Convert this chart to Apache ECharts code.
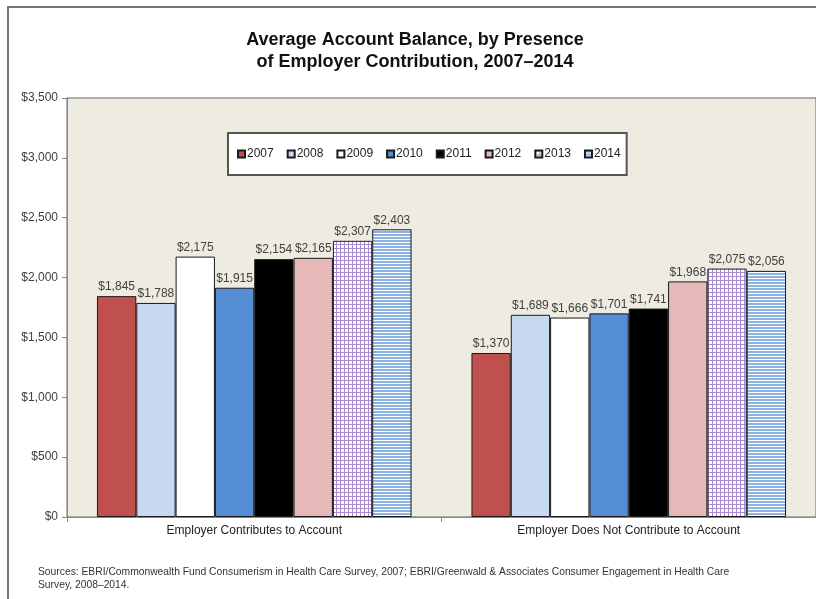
<!DOCTYPE html>
<html><head><meta charset="utf-8">
<script src="https://cdn.jsdelivr.net/npm/echarts@6/dist/echarts.min.js"></script>
<style>html,body{margin:0;padding:0;background:#fff}#c{width:816px;height:599px}</style>
</head><body><div id="c"></div>
<script>
var categories = ['Employer Contributes to Account', 'Employer Does Not Contribute to Account'];
var years = ['2007','2008','2009','2010','2011','2012','2013','2014'];
var v2007 = [1845, 1370];
var v2008 = [1788, 1689];
var v2009 = [2175, 1666];
var v2010 = [1915, 1701];
var v2011 = [2154, 1741];
var v2012 = [2165, 1968];
var v2013 = [2307, 2075];
var v2014 = [2403, 2056];
var values = [v2007, v2008, v2009, v2010, v2011, v2012, v2013, v2014];

function checkPattern(){
  var c = document.createElement('canvas'); c.width = 4; c.height = 4;
  var g = c.getContext('2d');
  g.fillStyle = '#ffffff'; g.fillRect(0,0,4,4);
  g.fillStyle = '#A88BD2'; g.fillRect(0,0,4,1); g.fillRect(0,0,1,4);
  return c;
}
function stripePattern(){
  var c = document.createElement('canvas'); c.width = 4; c.height = 3;
  var g = c.getContext('2d');
  g.fillStyle = '#ffffff'; g.fillRect(0,0,4,3);
  g.fillStyle = '#8DB3E2'; g.fillRect(0,0,4,2);
  return c;
}
var colors = ['#C0504D', '#C6D9F1', '#FFFFFF', '#558ED5', '#000000', '#E6B9B8',
  {image: checkPattern(), repeat: 'repeat'}, {image: stripePattern(), repeat: 'repeat'}];

var FONT = 'Liberation Sans, Arial, sans-serif';
var chart = echarts.init(document.getElementById('c'), null, {renderer: 'canvas'});
var series = years.map(function(y, i){
  return {
    name: y, type: 'bar', data: values[i],
    barGap: '0%', barCategoryGap: '16%',
    itemStyle: {color: colors[i], borderColor: '#1a1a1a', borderWidth: 1},
    label: {show: true, position: 'top', distance: 3, color: '#404040', fontSize: 12,
      fontFamily: FONT,
      formatter: function(p){ return '$' + p.value.toLocaleString('en-US'); }}
  };
});
chart.setOption({
  animation: false,
  backgroundColor: '#ffffff',
  textStyle: {fontFamily: FONT},
  title: {
    text: 'Average Account Balance, by Presence\nof Employer Contribution, 2007\u20132014',
    left: 410, top: 24, textAlign: 'center',
    textStyle: {fontSize: 18, fontWeight: 'bold', color: '#111', lineHeight: 22, fontFamily: FONT}
  },
  legend: {
    data: years, left: 228, top: 133, width: 420,
    backgroundColor: '#ffffff', borderColor: '#555', borderWidth: 2,
    padding: [15, 6, 15, 9],
    itemWidth: 7, itemHeight: 7, itemGap: 13,
    icon: 'rect',
    textStyle: {fontSize: 12, color: '#222', padding: [0,0,0,-3]}
  },
  grid: {left: 67, top: 98, width: 750, height: 419, show: true,
    backgroundColor: '#EEEBE0', borderColor: '#666', borderWidth: 1},
  xAxis: {
    type: 'category', data: categories,
    axisLine: {lineStyle: {color: '#888'}},
    axisTick: {show: true, alignWithLabel: false, length: 5, lineStyle: {color: '#888'}},
    axisLabel: {fontSize: 12, color: '#222', margin: 8}
  },
  yAxis: {
    type: 'value', min: 0, max: 3500, interval: 500,
    axisLine: {show: true, lineStyle: {color: '#888'}},
    axisTick: {show: true, length: 5, lineStyle: {color: '#888'}},
    splitLine: {show: false},
    axisLabel: {fontSize: 12, color: '#404040', margin: 9,
      formatter: function(v){ return '$' + v.toLocaleString('en-US'); }}
  },
  graphic: [
    {type: 'rect', shape: {x: 8, y: 7, width: 840, height: 640}, z: 100, silent: true,
      style: {fill: 'none', stroke: '#777', lineWidth: 2}},
    {type: 'text', left: 38, top: 566, z: 100,
      style: {text: 'Sources: EBRI/Commonwealth Fund Consumerism in Health Care Survey, 2007; EBRI/Greenwald & Associates Consumer Engagement in Health Care\nSurvey, 2008\u20132014.',
        fontSize: 10.3, lineHeight: 13, fill: '#333', fontFamily: FONT}}
  ],
  series: series
});
</script></body></html>
